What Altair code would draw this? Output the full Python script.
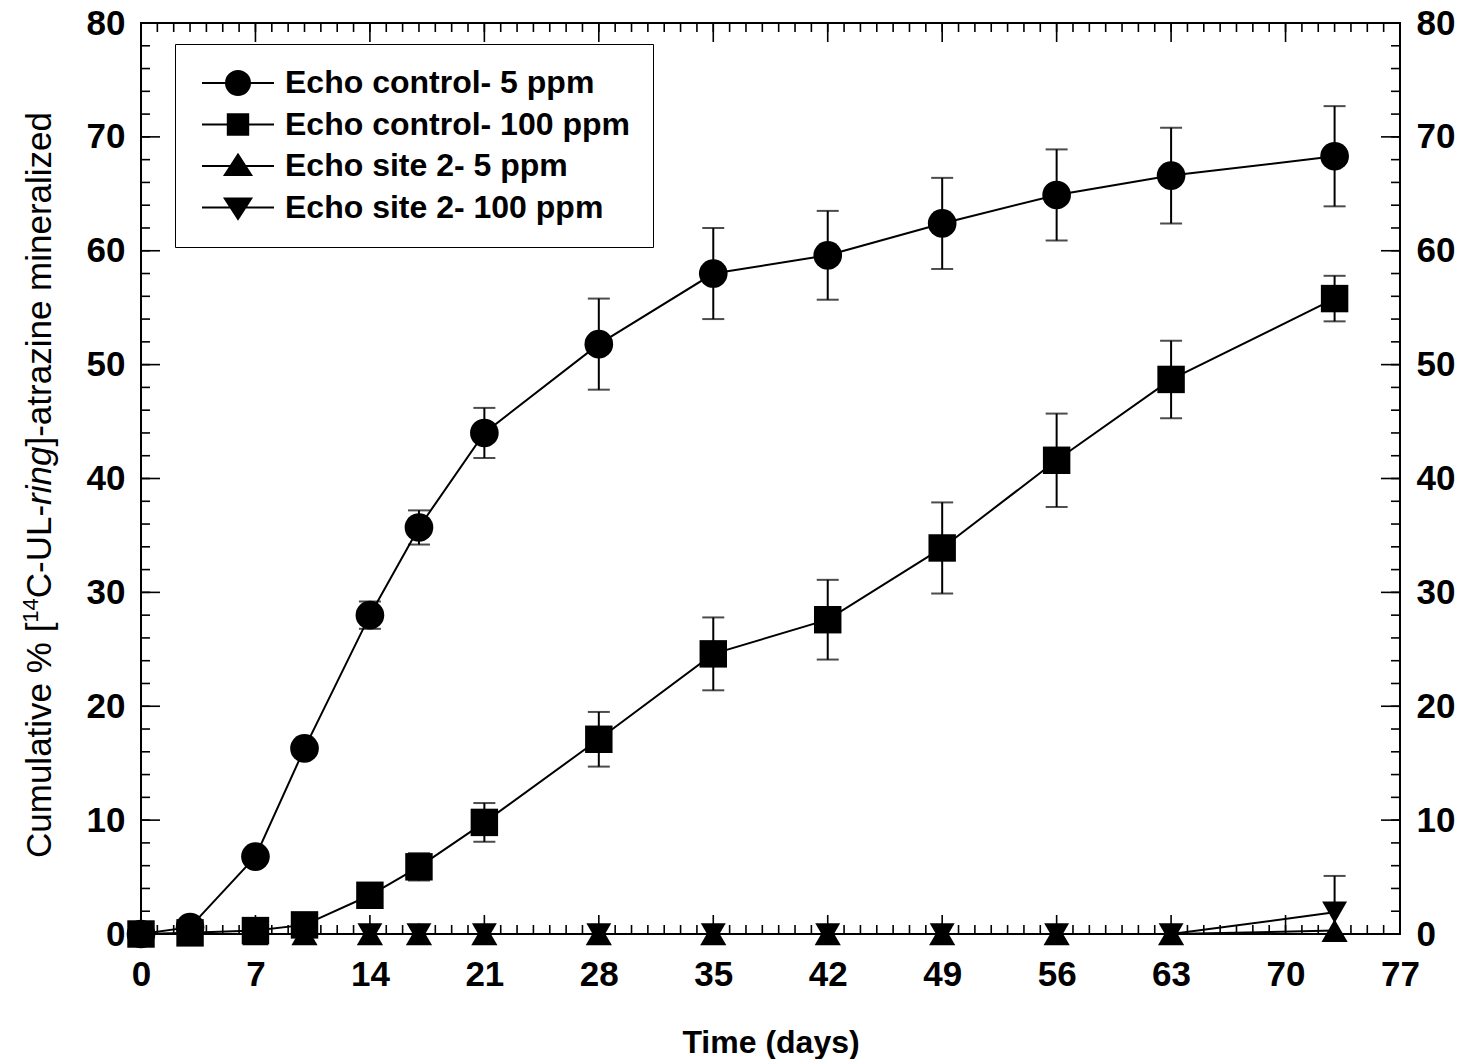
import altair as alt
import pandas as pd

# ---------------- data ----------------
days = [0, 3, 7, 10, 14, 17, 21, 28, 35, 42, 49, 56, 63, 73]
series_names = [
    "Echo control- 5 ppm",
    "Echo control- 100 ppm",
    "Echo site 2- 5 ppm",
    "Echo site 2- 100 ppm",
]
ctrl_5 = [0.0, 0.6, 6.8, 16.3, 28.0, 35.7, 44.0, 51.8, 58.0, 59.6, 62.4, 64.9, 66.6, 68.3]
ctrl_5_err = [0.0, 0.0, 0.0, 0.3, 1.2, 1.5, 2.2, 4.0, 4.0, 3.9, 4.0, 4.0, 4.2, 4.4]
ctrl_100 = [0.0, 0.1, 0.3, 0.8, 3.4, 5.9, 9.8, 17.1, 24.6, 27.6, 33.9, 41.6, 48.7, 55.8]
ctrl_100_err = [0.0, 0.0, 0.0, 0.0, 0.4, 1.2, 1.7, 2.4, 3.2, 3.5, 4.0, 4.1, 3.4, 2.0]
site2_5 = [0.0, 0.0, 0.0, 0.0, 0.0, 0.0, 0.0, 0.0, 0.0, 0.0, 0.0, 0.0, 0.0, 0.3]
site2_5_err = [0.0, 0.0, 0.0, 0.0, 0.0, 0.0, 0.0, 0.0, 0.0, 0.0, 0.0, 0.0, 0.0, 0.0]
site2_100 = [0.0, 0.0, 0.0, 0.0, 0.0, 0.0, 0.0, 0.0, 0.0, 0.0, 0.0, 0.0, 0.0, 1.9]
site2_100_err = [0.0, 0.0, 0.0, 0.0, 0.0, 0.0, 0.0, 0.0, 0.0, 0.0, 0.0, 0.0, 0.0, 3.2]

x_tick_labels = [0, 7, 14, 21, 28, 35, 42, 49, 56, 63, 70, 77]
y_tick_labels = [0, 10, 20, 30, 40, 50, 60, 70, 80]
x_minor_ticks = list(range(0, 78))
y_minor_ticks = list(range(0, 81, 2))

x_title = "Time (days)"

rows = []
for name, vals, errs in zip(
    series_names,
    [ctrl_5, ctrl_100, site2_5, site2_100],
    [ctrl_5_err, ctrl_100_err, site2_5_err, site2_100_err],
):
    for d, v, e in zip(days, vals, errs):
        rows.append(dict(series=name, day=d, value=v, err=e, hi=v + e, lo=max(0.0, v - e), raw_lo=v - e))
df = pd.DataFrame(rows)

# ---------------- layout ----------------
W, H = 1259, 911
FONT = "Liberation Sans"
TICK_FS = 35

xscale = alt.Scale(domain=[0, 77], nice=False, zero=False)
yscale = alt.Scale(domain=[0, 80], nice=False, zero=False)

x_axis = alt.Axis(
    values=x_tick_labels, title=x_title, orient="bottom", labelPadding=23,
    titleFont=FONT, titleFontSize=32, titleFontWeight="bold", titleColor="black",
    titlePadding=35, labelFlush=False, labelOverlap=False,
)
y_axis_left = alt.Axis(values=y_tick_labels, title=None, orient="left", labelPadding=16,
                       labelOverlap=False, labelFlush=False)
y_axis_right = alt.Axis(values=y_tick_labels, title=None, orient="right", labelPadding=16,
                        labelOverlap=False, labelFlush=False)

X = lambda f, axis=None: alt.X(f, scale=xscale, axis=axis)
Y = lambda f, axis=None: alt.Y(f, scale=yscale, axis=axis)

MAJ, MIN = 19, 9
TW = 1.6

def xticks(vals, length, top):
    d = pd.DataFrame({"t": vals})
    if top:
        return alt.Chart(d).mark_rule(color="black", strokeWidth=TW).encode(
            x=X("t:Q"), y=alt.value(0), y2=alt.value(length))
    return alt.Chart(d).mark_rule(color="black", strokeWidth=TW).encode(
        x=X("t:Q"), y=alt.value(H), y2=alt.value(H - length))

def yticks(vals, length, right, axis=None):
    d = pd.DataFrame({"t": vals})
    if right:
        return alt.Chart(d).mark_rule(color="black", strokeWidth=TW).encode(
            y=Y("t:Q", axis), x=alt.value(W), x2=alt.value(W - length))
    return alt.Chart(d).mark_rule(color="black", strokeWidth=TW).encode(
        y=Y("t:Q", axis), x=alt.value(0), x2=alt.value(length))

tick_layers = [
    xticks(x_minor_ticks, MIN, False), xticks(x_tick_labels, MAJ, False),
    xticks(x_minor_ticks, MIN, True), xticks(x_tick_labels, MAJ, True),
    yticks(y_minor_ticks, MIN, False), yticks(y_tick_labels, MAJ, False),
    yticks(y_minor_ticks, MIN, True), yticks(y_tick_labels, MAJ, True, y_axis_right),
]

lines = alt.Chart(df).mark_line(color="black", strokeWidth=2).encode(
    x=X("day:Q", x_axis), y=Y("value:Q", y_axis_left), detail="series:N", order="day:Q")

err_rules = alt.Chart(df).transform_filter("datum.err > 0").mark_rule(
    color="black", strokeWidth=2).encode(x=X("day:Q"), y=Y("lo:Q"), y2="hi:Q")
cap_hi = alt.Chart(df).transform_filter("datum.err > 0").mark_tick(
    orient="horizontal", size=22, thickness=2, color="black").encode(x=X("day:Q"), y=Y("hi:Q"))
cap_lo = alt.Chart(df).transform_filter("datum.err > 0 && datum.raw_lo >= 0").mark_tick(
    orient="horizontal", size=22, thickness=2, color="black").encode(x=X("day:Q"), y=Y("lo:Q"))

points = alt.Chart(df).mark_point(filled=True, opacity=1, color="black").encode(
    x=X("day:Q"), y=Y("value:Q"),
    shape=alt.Shape("series:N", scale=alt.Scale(
        domain=series_names, range=["circle", "square", "triangle-up", "triangle-down"]), legend=None),
    size=alt.Size("series:N", scale=alt.Scale(domain=series_names, range=[820, 620, 700, 700]), legend=None),
)

legend_paths = [
    "M-3,0H3M-1,0A1,1,0,1,1,1,0A1,1,0,1,1,-1,0Z",
    "M-3,0H3M-0.85,-0.85H0.85V0.85H-0.85Z",
    "M-3,0H3M0,-0.95L1.1,0.75L-1.1,0.75Z",
    "M-3,0H3M0,0.95L1.1,-0.75L-1.1,-0.75Z",
]
legend_layer = alt.Chart(df).transform_filter("datum.day < 0").mark_point(
    filled=False, fill="black", stroke="black", strokeWidth=2, opacity=1).encode(
    x=X("day:Q"), y=Y("value:Q"),
    shape=alt.Shape("series:N", scale=alt.Scale(domain=series_names, range=legend_paths),
                    legend=alt.Legend(
                        title=None, orient="none", legendX=34, legendY=21,
                        padding=23, rowPadding=9.5, symbolSize=576, symbolOffset=24,
                        labelOffset=31, labelFont=FONT, labelFontSize=32,
                        labelFontWeight="bold", labelColor="black", labelLimit=0,
                        strokeColor="black", fillColor="white",
                        symbolStrokeWidth=2, symbolOpacity=1, cornerRadius=0,
                    )),
)

# ---------------- y title (rich: superscript + italic) ----------------
F = 35
SUP = round(F * 0.62)
aw = {" ": 278, "%": 889, "[": 278, "]": 278, "C": 722, "U": 722, "L": 556, "-": 333,
      "a": 556, "t": 278, "r": 333, "z": 500, "i": 222, "n": 556, "e": 556, "m": 833,
      "l": 222, "d": 556, "u": 556, "v": 500, "g": 556, "1": 556, "4": 556}
def tw(s, fs):
    return sum(aw.get(c, 556) for c in s) / 1000.0 * fs

pieces = [
    ("Cumulative % [", F, "normal", 0),
    ("14", SUP, "normal", 1),
    ("C-UL-", F, "normal", 0),
    ("ring", F, "italic", 0),
    ("]-atrazine mineralized", F, "normal", 0),
]
total = sum(tw(p[0], p[1]) for p in pieces)
center_y = 462
base_x = -90
pos = center_y + total / 2
title_layers = []
for text, fs, style, sup in pieces:
    xpos = base_x - (0.36 * F if sup else 0)
    title_layers.append(
        alt.Chart(pd.DataFrame({"t": [text]})).mark_text(
            angle=270, align="left", baseline="alphabetic", font=FONT, fontSize=fs,
            fontStyle=style, color="black").encode(
            x=alt.value(xpos), y=alt.value(pos), text="t:N")
    )
    pos -= tw(text, fs)

chart = alt.layer(
    *tick_layers, lines, err_rules, cap_hi, cap_lo, points, legend_layer, *title_layers
).resolve_scale(shape="independent", size="independent").resolve_axis(
    x="independent", y="independent"
).properties(
    width=W, height=H,
    autosize=alt.AutoSizeParams(type="none"),
    padding={"left": 141, "top": 23, "right": 61, "bottom": 125},
    background="white",
).configure_view(stroke="black", strokeWidth=2).configure_axis(
    grid=False, ticks=False, domain=False, labelFont=FONT, labelFontSize=TICK_FS,
    labelFontWeight="bold", labelColor="black",
)

chart.save("out.html", embed_options={"renderer": "svg", "actions": False})
